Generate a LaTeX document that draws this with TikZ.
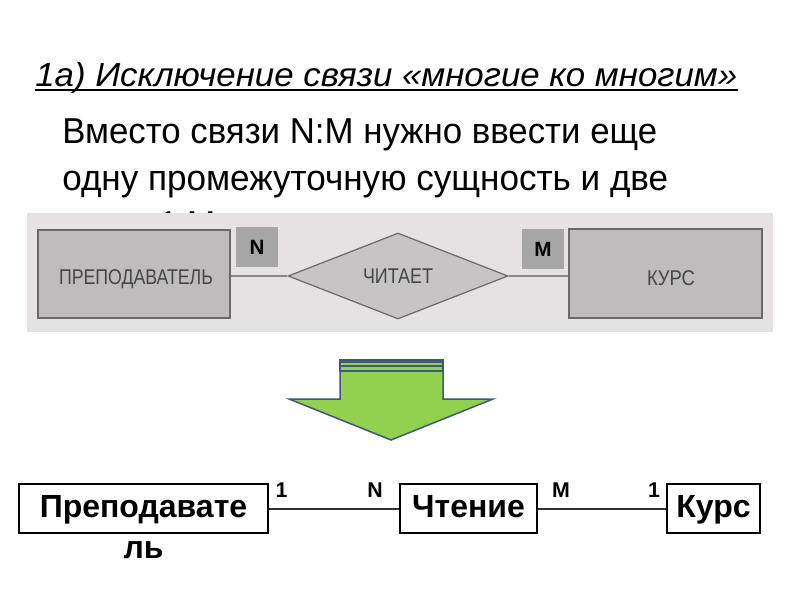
\documentclass[tikz,border=0pt]{standalone}
\usepackage{fontspec}
\setmainfont{Liberation Sans}
\usepackage{graphicx}
\usetikzlibrary{shapes.geometric}
\newlength\pxu
\setlength\pxu{0.75pt}
\definecolor{scanbg}{RGB}{230,226,227}
\definecolor{scanfill}{RGB}{190,188,188}
\definecolor{diafill}{RGB}{198,196,196}
\definecolor{scanedge}{RGB}{105,105,105}
\definecolor{scantext}{RGB}{70,70,70}
\definecolor{tagfill}{RGB}{166,166,166}
\definecolor{arrgreen}{RGB}{146,208,80}
\definecolor{arredge}{RGB}{62,88,120}
\definecolor{linkgray}{RGB}{50,50,50}
\tikzset{
  scanbox/.style={draw=scanedge, line width=1.5\pxu, fill=scanfill, inner sep=0pt},
  scandia/.style={diamond, draw=scanedge, line width=1.2\pxu, fill=diafill, inner sep=0pt,
    minimum width=220\pxu, minimum height=86\pxu},
  scantxt/.style={text=scantext, inner sep=0pt, font=\fontsize{16}{19}\selectfont},
  tagbox/.style={fill=tagfill, inner sep=0pt, minimum width=42\pxu, minimum height=40\pxu,
    font=\fontsize{15.5}{18}\selectfont\bfseries},
  scanline/.style={draw=scanedge!80, line width=1.5\pxu},
  erbox/.style={draw=black, line width=1.5\pxu, fill=white, inner sep=0pt, minimum height=49\pxu,
    text height=17.5pt, text depth=4pt, font=\fontsize{24}{28}\selectfont\bfseries},
  erlink/.style={draw=linkgray, line width=2\pxu},
  card/.style={inner sep=0pt, anchor=base, font=\fontsize{16}{19}\selectfont\bfseries},
  bodytxt/.style={anchor=base west, inner sep=0pt, font=\fontsize{27}{31}\selectfont}
}
\begin{document}
\begin{tikzpicture}[x=\pxu,y=-\pxu]
\useasboundingbox (0,0) rectangle (800,600);
\fill[white] (0,0) rectangle (800,600);

% title
\node[anchor=base west, inner sep=0pt] (title) at (35,86)
  {\resizebox{702\pxu}{\height}{\fontsize{25}{29}\selectfont\itshape 1а) Исключение связи «многие ко многим»}};
\draw[line width=2\pxu] ([yshift=-3.5\pxu]title.base west) -- ([yshift=-3.5\pxu]title.base east);

% body text
\node[bodytxt] (l1) at (62,143) {\resizebox{595\pxu}{\height}{Вместо связи N:M нужно ввести еще}};
\node[bodytxt] (l2) at (62,190) {\resizebox{606\pxu}{\height}{одну промежуточную сущность и две}};
\node[bodytxt] (l3) at (62,236) {\resizebox{153\pxu}{\height}{связи 1:М}};

% scanned ER fragment
\fill[scanbg] (27,213) rectangle (773,332);
\node[scanbox, minimum width=192\pxu, minimum height=88\pxu] (prep) at (134,274) {};
\node[scantxt, anchor=base] (preptxt) at (136,284) {\resizebox{154\pxu}{\height}{ПРЕПОДАВАТЕЛЬ}};
\node[scandia] (chit) at (398,276) {};
\node[scantxt, anchor=base] (chittxt) at (398,283) {\resizebox{70\pxu}{\height}{ЧИТАЕТ}};
\node[scanbox, minimum width=193\pxu, minimum height=89\pxu] (kurs) at (665.5,273.5) {};
\node[scantxt, anchor=base] (kurstxt) at (671,285) {\resizebox{48\pxu}{\height}{КУРС}};
\draw[scanline] (chit.west) -- (chit.west -| prep.east);
\draw[scanline] (chit.east) -- (chit.east -| kurs.west);
\node[tagbox] (tagN) at (257,247) {N};
\node[tagbox] (tagM) at (543,249) {M};

% big arrow
\draw[fill=arrgreen, draw=arredge, line width=1.5\pxu, line join=miter]
  (340,371) -- (443,371) -- (443,399) -- (493,399) -- (391,440) -- (289,399) -- (340,399) -- cycle;
\draw[fill=arrgreen, draw=arredge, line width=1.2\pxu] (340,366) rectangle (443,371);
\draw[fill=arrgreen, draw=arredge, line width=1.2\pxu] (340,362.5) rectangle (443,366);
\fill[arredge] (339.4,359) rectangle (443.6,362.5);

% result ER diagram
\node[erbox, minimum width=249\pxu] (prep2) at (143.5,508.5) {Преподавате};
\node[anchor=base, inner sep=0pt, font=\fontsize{24}{28}\selectfont\bfseries] (prep2b) at (143.5,558) {ль};
\node[erbox, minimum width=137\pxu] (cht) at (468.5,508.5) {Чтение};
\node[erbox, minimum width=93\pxu] (kurs2) at (713.5,508.5) {Курс};
\draw[erlink] (prep2.east) -- (cht.west);
\draw[erlink] (cht.east) -- (kurs2.west);
\node[card] (c1) at (281.5,497) {1};
\node[card] (cN) at (375,497) {N};
\node[card] (cM) at (561,497) {M};
\node[card] (c2) at (654,497) {1};
\end{tikzpicture}
\end{document}
